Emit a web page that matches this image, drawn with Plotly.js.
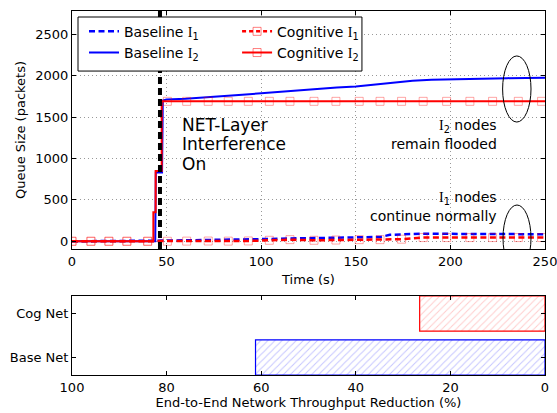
<!DOCTYPE html>
<html><head><meta charset="utf-8">
<script src="https://cdn.plot.ly/plotly-3.0.1.min.js"></script>
<style>html,body{margin:0;padding:0;background:#fff}</style>
</head><body>
<div id="chart" style="width:557px;height:413px"></div>
<script>
// ---- Data ----
const baseI1_t = [0, 10, 20, 25, 30, 35, 40, 44, 47, 55, 65, 75, 85, 95, 105, 115, 125, 135, 145, 155, 163, 168, 175, 185, 195, 205, 215, 225, 235, 245, 250];
const baseI1_q = [0, 0, 2, 8, 8, 8, 5, 0, 8, 10, 12, 14, 18, 24, 28, 34, 38, 42, 46, 50, 52, 78, 86, 92, 90, 88, 86, 85, 85, 84, 85];

const baseI2_t = [0, 44, 44.3, 47.6, 48, 50, 60, 70, 80, 90, 100, 110, 120, 130, 140, 150, 160, 170, 180, 190, 200, 210, 220, 230, 240, 250];
const baseI2_q = [0, 0, 830, 830, 1700, 1712, 1722, 1735, 1752, 1770, 1788, 1806, 1826, 1842, 1856, 1870, 1895, 1920, 1940, 1950, 1957, 1962, 1966, 1970, 1973, 1976];

const cogI1_t = [0, 10, 19.5, 29, 40, 50.4, 60.6, 72, 82.6, 93.2, 104.3, 115.2, 127.9, 139.5, 151.8, 162.8, 174.2, 185.6, 198, 210.3, 222.3, 235.9, 248.2, 250];
const cogI1_q = [0, 0, 0, 0, 0, 0, 2, 3, 2, 4, 12, 20, 12, 15, 20, 20, 25, 45, 45, 45, 45, 45, 45, 45];
const cogI1_mark = [1,1,1,1,1,1,1,1,1,1,1,1,1,1,1,1,1,1,1,1,1,1,1,0];

const cogI2_t = [0, 10, 19.5, 29, 40, 43, 43, 44.2, 44.2, 47.4, 47.4, 50.4, 60.6, 72, 82.6, 93.2, 104.3, 115.2, 127.9, 139.5, 151.8, 162.8, 174.2, 185.6, 198, 210.3, 222.3, 235.9, 248.2, 250];
const cogI2_q = [0, 0, 0, 0, 0, 0, 350, 350, 850, 850, 1690, 1690, 1690, 1690, 1690, 1690, 1690, 1690, 1690, 1690, 1690, 1690, 1690, 1690, 1690, 1690, 1690, 1690, 1690, 1690];
const cogI2_mark = [1,1,1,1,1,0,0,0,0,0,0,1,1,1,1,1,1,1,1,1,1,1,1,1,1,1,1,1,1,0];

const interferenceOn = 46.5;

const barCats = ["Base Net", "Cog Net"];
const baseNetReduction = 61.2;
const cogNetReduction = 26.5;

const xTicksTop = [0, 50, 100, 150, 200, 250];
const yTicksTop = [0, 500, 1000, 1500, 2000, 2500];
const xTicksBot = [100, 80, 60, 40, 20, 0];

// ---- Styles ----
const FONT = "DejaVu Sans";
const SERIF_I = '<span style="font-family:Liberation Serif">I</span>';
const markColor = 'rgba(255,0,0,0.5)';
const sz = arr => arr.map(m => m ? 8 : 0);

const traces = [
  {x: baseI1_t, y: baseI1_q, mode: 'lines', line: {color: '#0000ff', width: 2.5, dash: '6px,3.5px'}, showlegend: false, xaxis: 'x', yaxis: 'y'},
  {x: baseI2_t, y: baseI2_q, mode: 'lines', line: {color: '#0000ff', width: 2}, showlegend: false, xaxis: 'x', yaxis: 'y'},
  {x: cogI1_t, y: cogI1_q, mode: 'lines+markers', line: {color: '#ff0000', width: 2.5, dash: '6px,3.5px'},
   marker: {symbol: 'square-open', size: sz(cogI1_mark), color: markColor, line: {width: 1}}, showlegend: false, xaxis: 'x', yaxis: 'y'},
  {x: cogI2_t, y: cogI2_q, mode: 'lines+markers', line: {color: '#ff0000', width: 2},
   marker: {symbol: 'square-open', size: sz(cogI2_mark), color: markColor, line: {width: 1}}, showlegend: false, xaxis: 'x', yaxis: 'y'},
  // legend entries (two columns = two legends)
  {x: [null], y: [null], mode: 'lines', name: 'Baseline ' + SERIF_I + '<sub>1</sub>', legend: 'legend',
   line: {color: '#0000ff', width: 2.5, dash: '6px,3.5px'}, xaxis: 'x', yaxis: 'y'},
  {x: [null], y: [null], mode: 'lines', name: 'Baseline ' + SERIF_I + '<sub>2</sub>', legend: 'legend',
   line: {color: '#0000ff', width: 2}, xaxis: 'x', yaxis: 'y'},
  {x: [null], y: [null], mode: 'lines+markers', name: 'Cognitive ' + SERIF_I + '<sub>1</sub>', legend: 'legend2',
   line: {color: '#ff0000', width: 2.5, dash: '4px,3px'},
   marker: {symbol: 'square-open', size: 8, color: markColor, line: {width: 1}}, xaxis: 'x', yaxis: 'y'},
  {x: [null], y: [null], mode: 'lines+markers', name: 'Cognitive ' + SERIF_I + '<sub>2</sub>', legend: 'legend2',
   line: {color: '#ff0000', width: 2},
   marker: {symbol: 'square-open', size: 8, color: markColor, line: {width: 1}}, xaxis: 'x', yaxis: 'y'},
  // bars
  {type: 'bar', orientation: 'h', y: [barCats[0]], x: [baseNetReduction], width: 0.8, xaxis: 'x2', yaxis: 'y2', showlegend: false,
   marker: {color: '#ffffff', line: {color: '#0000ff', width: 1.2},
            pattern: {shape: '/', fgcolor: '#8c8cff', bgcolor: '#ffffff', fillmode: 'overlay', size: 5, solidity: 0.2}}},
  {type: 'bar', orientation: 'h', y: [barCats[1]], x: [cogNetReduction], width: 0.8, xaxis: 'x2', yaxis: 'y2', showlegend: false,
   marker: {color: '#ffffff', line: {color: '#ff0000', width: 1.2},
            pattern: {shape: '/', fgcolor: '#ff9a9a', bgcolor: '#ffffff', fillmode: 'overlay', size: 5, solidity: 0.2}}}
];

const axCommon = {showline: true, linecolor: '#000', linewidth: 1, mirror: 'ticks', ticks: 'inside', ticklen: 4, tickcolor: '#000',
  tickfont: {family: FONT, size: 13, color: '#000'}, zeroline: false, ticklabeloverflow: 'allow'};

const legendCommon = {orientation: 'v', y: 0.987, xanchor: 'left', yanchor: 'top', bgcolor: 'rgba(0,0,0,0)', borderwidth: 0,
  font: {family: FONT, size: 14, color: '#000'}, tracegroupgap: 0};

const layout = {
  width: 557, height: 413,
  margin: {l: 72, r: 12, t: 11, b: 38},
  paper_bgcolor: '#fff', plot_bgcolor: '#fff',
  font: {family: FONT, size: 13, color: '#000'},
  showlegend: true,
  barmode: 'overlay',
  legend: Object.assign({}, legendCommon, {x: 0.0254}),
  legend2: Object.assign({}, legendCommon, {x: 0.349}),
  xaxis: Object.assign({}, axCommon, {domain: [0, 1], anchor: 'y', range: [0, 250], tickvals: xTicksTop,
    showgrid: true, gridcolor: '#999', griddash: '1px,3px', gridwidth: 1,
    title: {text: 'Time (s)', font: {family: FONT, size: 13}, standoff: 7}}),
  yaxis: Object.assign({}, axCommon, {domain: [0.3462, 1], anchor: 'x', range: [-93, 2781], tickvals: yTicksTop,
    showgrid: true, gridcolor: '#999', griddash: '1px,3px', gridwidth: 1,
    title: {text: 'Queue Size (packets)', font: {family: FONT, size: 13}, standoff: 6}}),
  xaxis2: Object.assign({}, axCommon, {domain: [0, 1], anchor: 'y2', range: [100, 0], tickvals: xTicksBot, showgrid: false,
    title: {text: 'End-to-End Network Throughput Reduction (%)', font: {family: FONT, size: 13}, standoff: 4}}),
  yaxis2: Object.assign({}, axCommon, {domain: [0, 0.217], anchor: 'x2', range: [-0.4, 1.4], showgrid: false,
    type: 'category', categoryarray: barCats}),
  shapes: [
    {type: 'line', xref: 'x', yref: 'y domain', x0: interferenceOn, x1: interferenceOn, y0: 0, y1: 1,
     line: {color: '#000', width: 4, dash: '7px,4px'}, layer: 'above'},
    {type: 'circle', xref: 'x', yref: 'y', x0: 227.6, x1: 242.6, y0: 1440, y1: 2238, line: {color: '#000', width: 1}},
    {type: 'circle', xref: 'x', yref: 'y', x0: 227.8, x1: 242.6, y0: -360, y1: 438, line: {color: '#000', width: 1}},
    // legend frame
    {type: 'rect', xref: 'paper', yref: 'paper', x0: 0.0127, x1: 0.613, y0: 0.835, y1: 0.9835,
     fillcolor: '#fff', line: {color: '#000', width: 1}, layer: 'above'}
  ],
  annotations: [
    {xref: 'x', yref: 'y', x: 57.1, y: 1410, text: 'NET-Layer', xanchor: 'left', yanchor: 'middle', showarrow: false, font: {family: FONT, size: 17}},
    {xref: 'x', yref: 'y', x: 57.1, y: 1177, text: 'Interference', xanchor: 'left', yanchor: 'middle', showarrow: false, font: {family: FONT, size: 17}},
    {xref: 'x', yref: 'y', x: 57.1, y: 935, text: 'On', xanchor: 'left', yanchor: 'middle', showarrow: false, font: {family: FONT, size: 17}},
    {xref: 'x', yref: 'y', x: 225.8, y: 1397, text: SERIF_I + '<sub>2</sub> nodes', xanchor: 'right', yanchor: 'middle', showarrow: false, font: {family: FONT, size: 14}},
    {xref: 'x', yref: 'y', x: 225.8, y: 1175, text: 'remain flooded', xanchor: 'right', yanchor: 'middle', showarrow: false, font: {family: FONT, size: 14}},
    {xref: 'x', yref: 'y', x: 225.8, y: 526, text: SERIF_I + '<sub>1</sub> nodes', xanchor: 'right', yanchor: 'middle', showarrow: false, font: {family: FONT, size: 14}},
    {xref: 'x', yref: 'y', x: 225.8, y: 309, text: 'continue normally', xanchor: 'right', yanchor: 'middle', showarrow: false, font: {family: FONT, size: 14}}
  ]
};

Plotly.newPlot('chart', traces, layout, {staticPlot: true, displayModeBar: false});
</script>
</body></html>
